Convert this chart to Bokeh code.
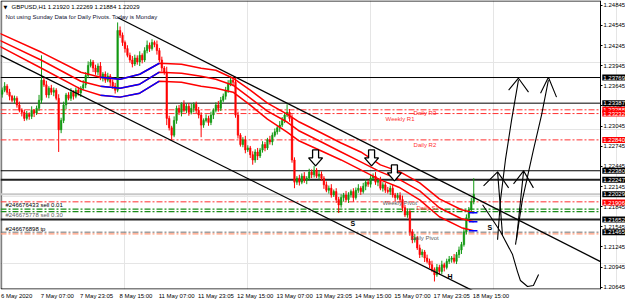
import numpy as np
from bokeh.plotting import figure
from bokeh.models import Range1d, LinearAxis, FixedTicker, Label, PrintfTickFormatter
from bokeh.core.properties import value
from bokeh.embed import file_html
from bokeh.resources import INLINE

FONT = "Liberation Sans"

# ---------------- data ----------------
first_open = 1.2352
closes = [
    1.2358, 1.2364, 1.2355, 1.2349,
    1.2343, 1.2346, 1.2336, 1.2328, 1.2325, 1.2316,
    1.2322, 1.2319, 1.2328, 1.2324, 1.2331,
    1.2343, 1.2373,
    1.2366, 1.2351, 1.2361, 1.2355, 1.2358,
    1.2346, 1.2299, 1.2313,
    1.2336, 1.2351, 1.2346,
    1.2355, 1.2349, 1.2358, 1.2354, 1.2361, 1.2366,
    1.2380, 1.2395, 1.2400, 1.2391,
    1.2385, 1.2394, 1.2376, 1.2382, 1.2373,
    1.2379, 1.2370, 1.2364, 1.2358,
    1.2447,
    1.2440, 1.2429, 1.2420, 1.2410, 1.2403, 1.2397,
    1.2406, 1.2400, 1.2410, 1.2403, 1.2417,
    1.2425, 1.2420, 1.2429, 1.2426, 1.2417,
    1.2403, 1.2391, 1.2385,
    1.2316,
    1.2302, 1.2291, 1.2313,
    1.2331, 1.2325, 1.2337, 1.2328, 1.2334, 1.2325, 1.2331, 1.2337, 1.2328, 1.2321,
    1.2306, 1.2313, 1.2316, 1.2310, 1.2321,
    1.2328, 1.2336, 1.2331, 1.2343, 1.2349, 1.2358,
    1.2367, 1.2373, 1.2370,
    1.2321,
    1.2291, 1.2277, 1.2284,
    1.2269, 1.2272, 1.2262, 1.2254, 1.2266, 1.2260,
    1.2269, 1.2277, 1.2272, 1.2284, 1.2281, 1.2291, 1.2296, 1.2302,
    1.2306, 1.2313, 1.2321, 1.2325, 1.2316,
    1.2254, 1.2221,
    1.2227, 1.2221, 1.2230, 1.2224, 1.2227, 1.2236, 1.2232, 1.2239, 1.2230, 1.2233, 1.2227,
    1.2217, 1.2209, 1.2212, 1.2202, 1.2207, 1.2195, 1.2187, 1.2198, 1.2202, 1.2195,
    1.2202, 1.2207, 1.2198, 1.2209, 1.2212, 1.2207, 1.2215, 1.2221, 1.2218, 1.2227, 1.2230,
    1.2221, 1.2224, 1.2212, 1.2217, 1.2209, 1.2207, 1.2212, 1.2202, 1.2198, 1.2201, 1.2195,
    1.2183, 1.2172, 1.2177, 1.2147,
    1.2135, 1.2138, 1.2123, 1.2113, 1.2117, 1.2108,
    1.2103, 1.2098, 1.2091, 1.2083, 1.2094, 1.2088,
    1.2098, 1.2094, 1.2103, 1.2106, 1.2108, 1.2103, 1.2113, 1.2120, 1.2128,
    1.2147, 1.2168, 1.2180, 1.2192,
    1.22029,
]
upper_wick_pips = [
    4, 6, 3, 5, 2, 4, 3, 5, 3, 4,
    5, 3, 6, 2, 4, 8, 37, 4, 6, 3,
    5, 4, 3, 6, 4, 5, 3, 4, 6, 3,
    4, 5, 3, 7, 5, 6, 4, 3, 5, 4,
    6, 3, 4, 5, 3, 4, 5, 12, 6, 4,
    3, 5, 4, 6, 5, 4, 6, 3, 5, 7,
    4, 5, 3, 6, 4, 5, 3, 8, 4, 3,
    6, 4, 5, 3, 6, 4, 5, 7, 3, 4,
    5, 4, 3, 6, 4, 5, 3, 4, 6, 5,
    4, 5, 6, 6, 4, 8, 5, 3, 4, 6,
    4, 3, 5, 4, 6, 3, 5, 4, 3, 6,
    4, 5, 3, 6, 5, 4, 12, 5, 6, 4,
    3, 5, 4, 6, 3, 5, 4, 6, 3, 5,
    4, 3, 5, 4, 6, 3, 5, 4, 5, 3,
    6, 4, 3, 5, 4, 6, 3, 5, 4, 3,
    5, 4, 6, 3, 5, 4, 3, 5, 4, 6,
    3, 4, 5, 6, 4, 5, 3, 4, 6, 3,
    5, 4, 3, 5, 4, 6, 3, 5, 4, 6,
    3, 4, 5, 3, 6, 4, 5, 4, 6, 5,
    4, 6, 24,
]
lower_wick_pips = [
    5, 3, 4, 6, 3, 5, 4, 3, 6, 4,
    3, 5, 4, 6, 3, 4, 5, 3, 4, 5,
    4, 6, 3, 33, 5, 4, 6, 3, 4, 5,
    3, 4, 6, 3, 5, 4, 3, 6, 4, 5,
    3, 5, 4, 3, 6, 4, 5, 3, 4, 5,
    6, 3, 4, 5, 3, 4, 6, 5, 3, 4,
    5, 3, 4, 6, 3, 5, 4, 10, 4, 7,
    3, 5, 4, 6, 3, 4, 5, 3, 6, 4,
    5, 18, 4, 3, 5, 4, 6, 3, 5, 4,
    3, 5, 4, 3, 6, 4, 5, 3, 4, 5,
    3, 5, 7, 4, 6, 3, 4, 5, 3, 4,
    5, 3, 4, 6, 3, 4, 3, 5, 4, 9,
    4, 5, 3, 4, 6, 3, 5, 4, 3, 5,
    4, 6, 3, 5, 4, 3, 5, 12, 4, 6,
    3, 5, 4, 6, 3, 4, 5, 3, 6, 4,
    5, 3, 4, 6, 3, 5, 4, 3, 5, 4,
    6, 3, 4, 5, 3, 4, 6, 5, 4, 3,
    5, 4, 6, 3, 5, 4, 10, 3, 5, 4,
    6, 3, 4, 5, 3, 4, 5, 6, 3, 4,
    5, 3, 4,
]

time_label_bars = [0, 16, 32, 48, 64, 80, 96, 112, 128, 144, 160, 176, 192]
time_labels = ["6 May 2020", "7 May 07:00", "7 May 23:05", "8 May 15:00", "11 May 07:00",
               "11 May 23:05", "12 May 15:00", "13 May 07:00", "13 May 23:05", "14 May 15:00",
               "15 May 07:00", "17 May 23:05", "18 May 15:00"]
price_ticks = [1.24845, 1.24545, 1.24245, 1.23945, 1.23645, 1.23345, 1.23045, 1.22745,
               1.22445, 1.22145, 1.21845, 1.21545, 1.21245, 1.20945, 1.20645]

# moving-average channel vertices (bar index, price)
ma_bars = [-1, 16, 32, 40, 48, 56, 64, 73, 81, 87, 94, 101, 108, 116, 121, 130, 138, 146,
           154, 162, 170, 178, 187, 192]
ma_top = [1.24427, 1.24145, 1.23848, 1.23774, 1.23744, 1.23818, 1.23982, 1.23967, 1.23907,
          1.23878, 1.23759, 1.23581, 1.23388, 1.23224, 1.23106, 1.22942, 1.22794, 1.22660,
          1.22467, 1.22363, 1.22200, 1.21962, 1.21799, 1.21754]
ma_mid = [1.24323, 1.24026, 1.23714, 1.23640, 1.23610, 1.23670, 1.23848, 1.23833, 1.23789,
          1.23744, 1.23655, 1.23462, 1.23269, 1.23106, 1.22972, 1.22809, 1.22660, 1.22512,
          1.22363, 1.22244, 1.22081, 1.21829, 1.21665, 1.21621]
ma_low = [1.24234, 1.23907, 1.23596, 1.23506, 1.23477, 1.23536, 1.23714, 1.23699, 1.23640,
          1.23610, 1.23551, 1.23358, 1.23150, 1.22957, 1.22823, 1.22675, 1.22541, 1.22393,
          1.22244, 1.22126, 1.21947, 1.21695, 1.21532, 1.21487]
ma_blue_from, ma_blue_to = 40, 64

# trend channel
chan_up_bars, chan_up_prices = [47, 243.6], [1.24664, 1.21027]
chan_lo_bars, chan_lo_prices = [-0.7, 194.7], [1.24100, 1.20537]

# horizontal levels
level_prices = [1.23769, 1.23387, 1.23288, 1.23232, 1.22840, 1.22380, 1.22247, 1.22029,
                1.21917, 1.21809, 1.21772, 1.21652, 1.21465, 1.21440]
level_kind = ["hline", "hline", "r_piv", "r_piv", "r_piv", "hline", "hline2", "bid",
              "r_piv", "order", "order", "hline2", "g_piv", "tp"]

# price boxes on the price scale
box_prices = [1.23769, 1.23387, 1.23288, 1.23232, 1.22840, 1.22380, 1.22247, 1.22029,
              1.21906, 1.21652, 1.21465]
box_texts = ["1.23769", "1.23387", "1.23288", "1.23232", "1.22840", "1.22380", "1.22247",
             "1.22029", "1.21906", "1.21652", "1.21465"]
box_kind = ["k", "k", "r", "r", "r", "k", "k", "k", "r", "k", "k"]

# text objects on the chart (bar, price)
note_texts = ["Daily R3", "Weekly R1", "Daily R2", "Weekly Pivot", "Daily S1", "Daily Pivot",
              "#246676433 sell 0.01", "#246675778 sell 0.30", "#246676898 tp"]
note_bars = [167.5, 156.1, 167.5, 154.8, 168.7, 166.2, 1.3, 1.3, 1.3]
note_prices = [1.23239, 1.23150, 1.22764, 1.21903, 1.21828, 1.21383, 1.21873, 1.21725, 1.21517]
note_kind = ["r", "r", "r", "g", "r", "g", "k", "g", "k"]

sh_texts = ["S", "S", "H"]
sh_bars = [141.8, 197.6, 181.3]
sh_prices = [1.21591, 1.21531, 1.20804]

arrow_bars = [127.6, 150.4, 159.7]
arrow_prices = [1.22571, 1.22571, 1.22348]

# hand-drawn strokes (bar, price)
strokes = [
    ([201.7, 202.9, 204.9, 207.4, 210.2], [1.21353, 1.21947, 1.22541, 1.23135, 1.23729]),
    ([206.2, 210.2, 214.3], [1.23580, 1.23759, 1.23551]),
    ([209.0, 211.8, 216.3, 219.6, 222.4], [1.21279, 1.21947, 1.22690, 1.23209, 1.23729]),
    ([219.2, 222.4, 225.7], [1.23536, 1.23774, 1.23477]),
    ([196.0, 201.7, 206.2], [1.22155, 1.22363, 1.22125]),
    ([201.7, 203.7], [1.22363, 1.21427]),
    ([208.2, 212.3, 216.3], [1.22185, 1.22378, 1.22125]),
    ([212.3, 209.4], [1.22378, 1.21353]),
    ([195.6, 202.9, 207.8, 209.8, 211.0, 213.9, 216.3, 218.4],
     [1.21873, 1.21472, 1.21131, 1.20878, 1.20745, 1.20656, 1.20670, 1.20834]),
]

title_text = "GBPUSD,H1  1.21920 1.22269 1.21884 1.22029"
info_text = "Not using Sunday Data for Daily Pivots.  Today is Monday"

# ---------------- figure ----------------
PX_BAR = 2.456          # pixels per bar
X0 = -0.69
FW, FH = 625, 290
X1 = X0 + FW / PX_BAR
XA = X0 + 600 / PX_BAR  # price-scale border
Y0, Y1 = 1.206108, 1.249167
px_bar = FW / (X1 - X0)
px_price = FH / (Y1 - Y0)

p = figure(width=625, height=301, x_range=Range1d(X0, X1), y_range=Range1d(Y0, Y1),
           output_backend="svg", toolbar_location=None,
           x_axis_location=None, y_axis_location=None,
           min_border_left=0, min_border_top=0, min_border_right=0, min_border_bottom=0)
p.background_fill_color = "white"
p.border_fill_color = "white"
p.outline_line_color = None

# axes
yax = LinearAxis(ticker=FixedTicker(ticks=price_ticks), formatter=PrintfTickFormatter(format="%.5f"),
                 fixed_location=XA)
yax.major_label_text_font = FONT
yax.major_label_text_font_size = "6px"
yax.major_label_text_color = "black"
yax.major_tick_out = 2
yax.major_tick_in = 0
yax.minor_tick_out = 0
yax.minor_tick_in = 0
yax.major_label_standoff = 1
yax.axis_line_color = "black"
p.add_layout(yax, "right")

lab_pos = [round(b + 1.44 * len(t) / px_bar, 2) for b, t in zip(time_label_bars, time_labels)]
xax = LinearAxis(ticker=FixedTicker(ticks=lab_pos),
                 major_label_overrides={pp: t for pp, t in zip(lab_pos, time_labels)})
xax.major_label_text_font = FONT
xax.major_label_text_font_size = "6px"
xax.major_label_text_color = "black"
xax.major_tick_line_color = None
xax.major_tick_out = 2
xax.major_tick_in = 0
xax.minor_tick_out = 0
xax.minor_tick_in = 0
xax.major_label_standoff = 1
xax.axis_line_color = None
p.add_layout(xax, "below")

# chart border (left, top, bottom)
bx0 = X0 + 0.5 / px_bar
by0 = Y0 + 0.5 / px_price
by1 = Y1 - 0.5 / px_price
p.line([XA, bx0, bx0, XA], [by1, by1, by0, by0], line_color="black", line_width=1)

# horizontal levels
level_style = {
    "hline": dict(line_color="black", line_width=1),
    "hline2": dict(line_color="#202020", line_width=2),
    "bid": dict(line_color="#c8c8c8", line_width=2),
    "r_piv": dict(line_color="#ff3030", line_width=1, line_dash="6 2 2 2"),
    "order": dict(line_color="#1a8c1a", line_width=1.2, line_dash="6 2 2 2"),
    "g_piv": dict(line_color="#707070", line_width=1, line_dash="6 2 2 2"),
    "tp": dict(line_color="#ff9a7a", line_width=1.2, line_dash="6 2 2 2"),
}
for pr, k in zip(level_prices, level_kind):
    p.line([X0, XA], [pr, pr], **level_style[k])

# candles
n = len(closes)
bars = np.arange(n)
opens = [first_open] + closes[:-1]
highs = [max(o, c) + u * 1e-4 for o, c, u in zip(opens, closes, upper_wick_pips)]
lows = [min(o, c) - d * 1e-4 for o, c, d in zip(opens, closes, lower_wick_pips)]
cols = ["#129912" if c >= o else "#ff0000" for o, c in zip(opens, closes)]
p.segment(x0=bars, y0=lows, x1=bars, y1=highs, line_color=cols, line_width=1)
p.vbar(x=bars, width=0.6, top=[max(o, c) for o, c in zip(opens, closes)],
       bottom=[min(o, c) for o, c in zip(opens, closes)],
       fill_color=cols, line_color=cols, line_width=0.6)

# MA channel
for arr in (ma_top, ma_mid, ma_low):
    p.line(ma_bars, arr, line_color="#ff0000", line_width=1.5)
    bx = [b for b in ma_bars if ma_blue_from <= b <= ma_blue_to]
    by = [v for b, v in zip(ma_bars, arr) if ma_blue_from <= b <= ma_blue_to]
    p.line(bx, by, line_color="#0000ff", line_width=1.5)
    p.line([190, 193.5], [arr[-1], arr[-1]], line_color="#0000ff", line_width=1.5)

# trend channel
p.line(chan_up_bars, chan_up_prices, line_color="black", line_width=1.3)
p.line(chan_lo_bars, chan_lo_prices, line_color="black", line_width=1.3)

# hollow down arrows
adx = np.array([-3, 3, 3, 7, 0, -7, -3])
ady = np.array([-8, -8, 0, 0, 8, 0, 0])
p.patches([list(b + adx / px_bar) for b in arrow_bars],
          [list(pr - ady / px_price) for pr in arrow_prices],
          fill_color="white", line_color="black", line_width=1.3)

# hand-drawn strokes
for xs, ys in strokes:
    p.line(xs, ys, line_color="black", line_width=1.1)

# chart texts
kind_col = {"r": "#ff3030", "g": "#606060", "k": "black"}
p.text(x=note_bars, y=note_prices, text=note_texts, text_color=[kind_col[k] for k in note_kind],
       text_font=value(FONT), text_font_size="6px", text_baseline="middle", text_align="left")
p.text(x=sh_bars, y=sh_prices, text=sh_texts, text_color="black", text_font=value(FONT),
       text_font_size="7px", text_font_style="bold", text_baseline="middle", text_align="left")

ty = Y1 - 7 / px_price
iy = Y1 - 16.5 / px_price
p.text(x=[X0 + 3 / px_bar], y=[ty], text=["\u25bc"], text_color="black",
       text_font=value("DejaVu Sans"), text_font_size="5px", text_baseline="middle")
p.text(x=[X0 + 11 / px_bar], y=[ty], text=[title_text], text_color="black",
       text_font=value(FONT), text_font_size="6px", text_baseline="middle")
p.text(x=[X0 + 5 / px_bar], y=[iy], text=[info_text], text_color="#101030",
       text_font=value(FONT), text_font_size="6px", text_baseline="middle")

# price boxes on the scale
box_bg = {"k": "black", "r": "#ff0000"}
for pr, t, k in zip(box_prices, box_texts, box_kind):
    p.add_layout(Label(x=XA + 1.8 / px_bar, y=pr, x_units="data", y_units="data", text=t,
                       text_font=FONT, text_font_size="6px", text_color="white",
                       text_baseline="middle", text_align="left",
                       background_fill_color=box_bg[k], padding=1))

open("out.html", "w").write(file_html(p, INLINE))
